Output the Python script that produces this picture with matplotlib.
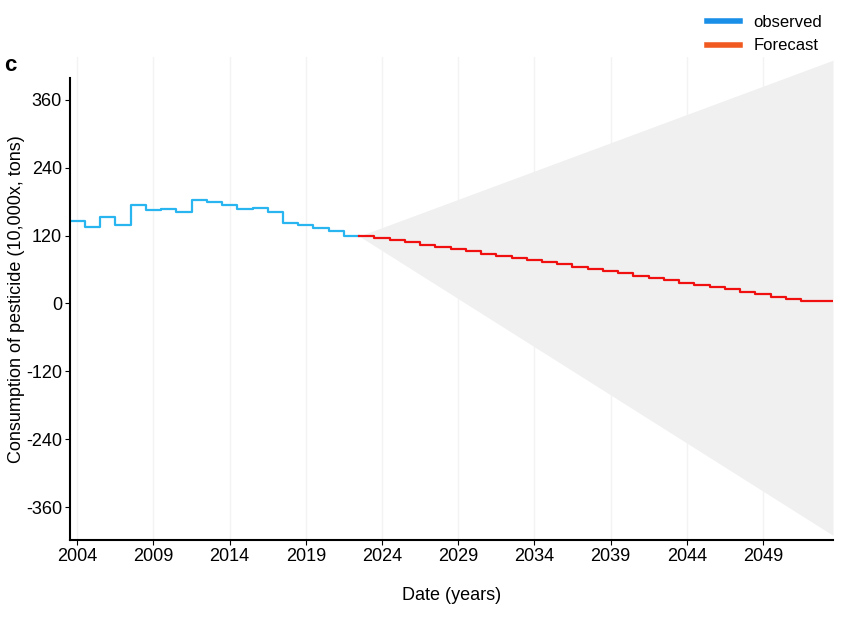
import numpy as np
import matplotlib
matplotlib.use("Agg")
import matplotlib.pyplot as plt

plt.rcParams["font.family"] = ["Liberation Sans", "DejaVu Sans"]
plt.rcParams["axes.unicode_minus"] = False

# observed yearly step values (10,000 tons)
obs_start = np.arange(2003.5, 2022.5, 1.0)
obs_vals = [146, 136, 153, 138, 174, 165, 167, 162, 183, 179, 174, 167,
            169, 162, 143, 138, 133, 128, 119]

# forecast yearly step values
fc_start = np.arange(2022.5, 2052.5, 1.0)
fc_vals = [119, 115, 112, 108, 104, 100, 96, 92, 88, 84, 80, 77, 73, 69, 65,
           61, 57, 53, 49, 45, 41, 37, 33, 29, 25, 21, 17, 12, 8, 4]

# confidence band edges
band_x = [2022.5, 2053.6]
band_hi = [119, 430]
band_lo = [119, -410]

fig = plt.figure(figsize=(8.5, 6.17), dpi=100)
ax = fig.add_axes([0.082, 0.125, 0.898, 0.782])

ax.fill_between(band_x, band_lo, band_hi, color="#f0f0f0", linewidth=0)

ox = np.append(obs_start, obs_start[-1] + 1)
ax.step(ox, obs_vals + [obs_vals[-1]], where="post", color="#29b6f0", lw=1.6)
fx = np.append(fc_start, 2053.6)
ax.step(fx, fc_vals + [fc_vals[-1]], where="post", color="#f01010", lw=1.6)

ax.set_xlim(2003.5, 2053.6)
ax.set_ylim(-418, 435)
ax.set_xticks(range(2004, 2050, 5))
ax.set_yticks([-360, -240, -120, 0, 120, 240, 360])
ax.grid(axis="x", color="#f3f3f3", lw=1)
ax.set_axisbelow(True)
for s in ("top", "right"):
    ax.spines[s].set_visible(False)
ax.spines["left"].set_bounds(-418, 398)
ax.spines["left"].set_linewidth(1.5)
ax.spines["bottom"].set_linewidth(1.5)
ax.tick_params(labelsize=13, pad=2)
ax.set_xlabel("Date (years)", fontsize=13, labelpad=16)
ax.set_ylabel("Consumption of pesticide (10,000x, tons)", fontsize=13, labelpad=1)

fig.text(0.005, 0.885, "c", fontsize=16, fontweight="bold")
h1, = ax.plot([], [], color="#1a8fe8", lw=4)
h2, = ax.plot([], [], color="#f05a20", lw=4)
fig.legend([h1, h2], ["observed", "Forecast"], loc="upper right",
           bbox_to_anchor=(0.985, 1.0), frameon=False, fontsize=12,
           handlelength=2)

fig.savefig("out.png")
